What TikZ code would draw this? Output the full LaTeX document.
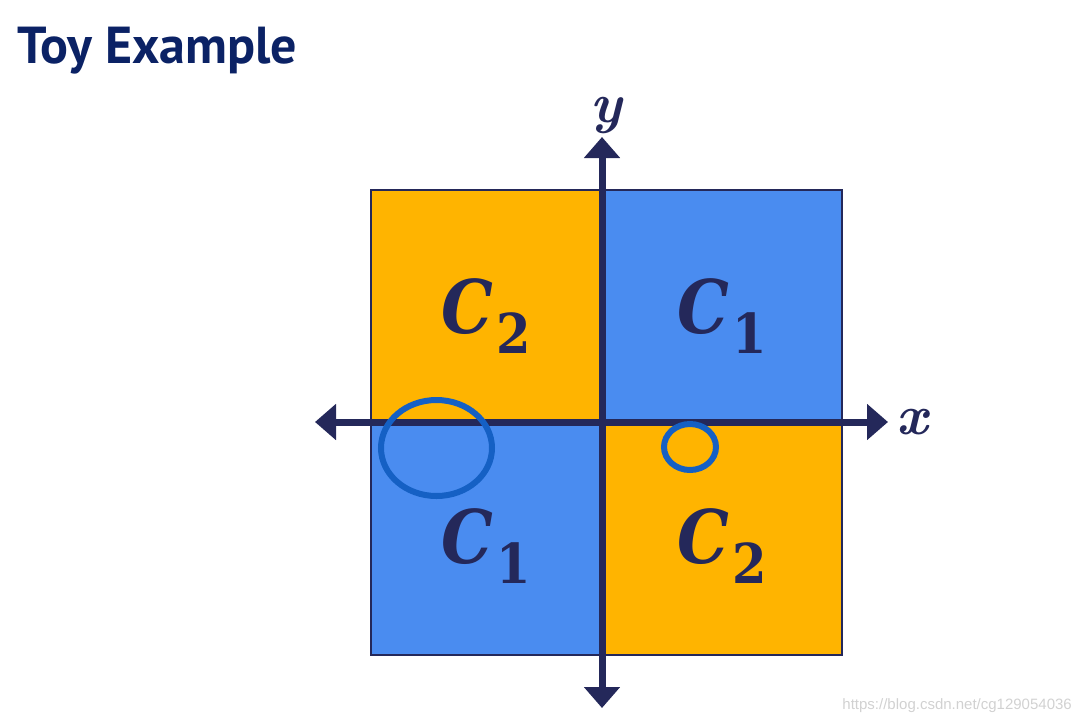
\documentclass[tikz,border=0pt]{standalone}
\usepackage{fontspec}
\usepackage{graphicx}
\newfontfamily\titlefont{PT Sans}
\newfontfamily\markfont{Liberation Sans}
\newfontfamily\cfont{DejaVu Serif}
\usetikzlibrary{arrows.meta}
\definecolor{qorange}{HTML}{FFB400}
\definecolor{qblue}{HTML}{4A8CF0}
\definecolor{navy}{HTML}{24285A}
\definecolor{ringblue}{HTML}{1560C4}
\definecolor{titleblue}{HTML}{0B2265}
\tikzset{
  axis/.style={navy, line width=7pt, {Triangle[length=21pt,width=35pt]}-{Triangle[length=21pt,width=35pt]}},
  ring/.style={ringblue, line width=6pt},
  cls/.style={text=navy, inner sep=0pt},
  axlabel/.style={text=navy, inner sep=0pt, font=\fontsize{56}{60}\selectfont\bfseries\itshape},
}
\newcommand{\clab}[1]{\scalebox{0.88}[1]{\cfont\fontsize{74}{80}\selectfont\bfseries\itshape C}\kern3pt\raisebox{-20pt}{\scalebox{0.9}[1]{\cfont\fontsize{55}{60}\selectfont\bfseries #1}}}
\begin{document}
\begin{tikzpicture}[x=1pt,y=-1pt]
\useasboundingbox (0,0) rectangle (1082,721);
% quadrants
\fill[qorange] (371,190) rectangle (602,422);
\fill[qblue] (602,190) rectangle (842,422);
\fill[qblue] (371,422) rectangle (602,655);
\fill[qorange] (602,422) rectangle (842,655);
\draw[navy, line width=2.5pt] (371,190) rectangle (842,655);
% labels
\node[cls, anchor=base] (tl) at (486,333) {\clab{2}};
\node[cls, anchor=base] (tr) at (722,333) {\clab{1}};
\node[cls, anchor=base] (bl) at (486,563) {\clab{1}};
\node[cls, anchor=base] (br) at (722,563) {\clab{2}};
% axes
\coordinate (xl) at (315,422);
\coordinate (xr) at (888,422);
\coordinate (yt) at (602,137);
\coordinate (yb) at (602,708);
\draw[axis] (xl) -- (xr);
\draw[axis] (yb) -- (yt);
\node[axlabel, anchor=base] (xlab) at (912,434) {x};
\node[axlabel, anchor=base] (ylab) at (606,122) {y};
% rings
\draw[ring] (436.5,448) ellipse [x radius=55.5pt, y radius=48pt];
\draw[ring] (690,447) ellipse [x radius=26pt, y radius=23pt];
% title
\node[anchor=base west, inner sep=0pt, text=titleblue] (title) at (17,63) {\titlefont\bfseries\fontsize{52}{60}\selectfont Toy Example};
% watermark
\node[anchor=base east, inner sep=0pt, text=black!18] (wm) at (1072,709) {\markfont\fontsize{15}{18}\selectfont https://blog.csdn.net/cg129054036};
\end{tikzpicture}
\end{document}
